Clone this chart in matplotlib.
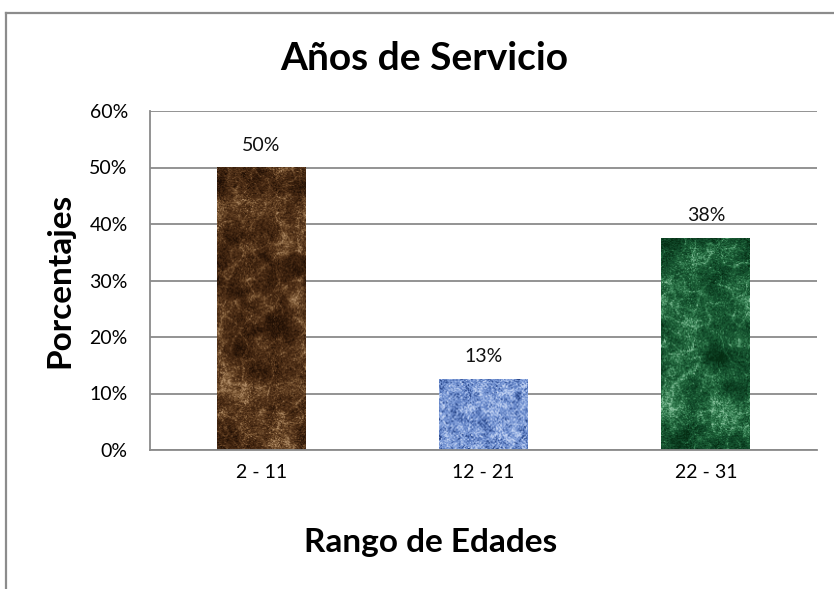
import numpy as np
import matplotlib
matplotlib.use('Agg')
import matplotlib.pyplot as plt
from matplotlib.colors import LinearSegmentedColormap
from matplotlib.lines import Line2D

# ---- data ----
categories = ['2 - 11', '12 - 21', '22 - 31']
values = [50.0, 12.5, 37.5]
value_labels = ['50%', '13%', '38%']
yticks = [0, 10, 20, 30, 40, 50, 60]
ytick_labels = ['0%', '10%', '20%', '30%', '40%', '50%', '60%']
title = 'Años de Servicio'
xlabel = 'Rango de Edades'
ylabel = 'Porcentajes'

FONT = ['Lato', 'DejaVu Sans']
plt.rcParams['font.family'] = FONT

W, H = 834, 589
fig = plt.figure(figsize=(W / 100, H / 100), dpi=100)
ax = fig.add_axes([150 / W, (H - 450) / H, (817 - 150) / W, (450 - 111) / H])

x = np.arange(len(categories))
bars = ax.bar(x, values, width=0.40, color=['#4a2d18', '#7d9bd8', '#1b5630'],
              zorder=2, linewidth=0)

# ---- decorative textures (styling only) ----
rng = np.random.default_rng(11)


def smooth_noise(h, w, scale):
    n = rng.standard_normal((h, w))
    fy = np.fft.fftfreq(h)[:, None]
    fx = np.fft.fftfreq(w)[None, :]
    f = np.exp(-(fx ** 2 + fy ** 2) * (scale ** 2) * 10)
    out = np.real(np.fft.ifft2(np.fft.fft2(n) * f))
    return (out - out.mean()) / (out.std() + 1e-9)


def marble(h, w):
    base = 0.7 * smooth_noise(h, w, 14) + 0.4 * smooth_noise(h, w, 5) + 0.45 * smooth_noise(h, w, 0.5)
    veins = np.exp(-np.abs(smooth_noise(h, w, 6)) * 6.0)
    v = 0.45 * base + 0.9 * veins + 0.3 * smooth_noise(h, w, 0.3)
    lo, hi = np.percentile(v, [1, 99.5])
    return np.clip((v - lo) / (hi - lo), 0, 1)


def weave(h, w):
    yy, xx = np.mgrid[0:h, 0:w]
    pat = 0.5 * np.cos(2 * np.pi * xx / 4.0) * np.cos(2 * np.pi * yy / 4.0)
    v = 0.55 + 0.35 * pat + 0.22 * smooth_noise(h, w, 0.5) + 0.12 * smooth_noise(h, w, 3)
    return np.clip(v, 0, 1)


cmaps = [
    LinearSegmentedColormap.from_list('brown', ['#1f0f05', '#3a200d', '#523219', '#7a5633', '#b08c66']),
    LinearSegmentedColormap.from_list('blue', ['#2c4a8c', '#5f80c4', '#86a3dc', '#c3d3f2']),
    LinearSegmentedColormap.from_list('green', ['#052d13', '#0f4527', '#1b5d35', '#3f8a5c', '#8cc4a0']),
]
makers = [marble, weave, marble]
px_per_unit = (450 - 111) / 60.0
for b, cm, mk in zip(bars, cmaps, makers):
    x0, bw, bh = b.get_x(), b.get_width(), b.get_height()
    hp = max(int(bh * px_per_unit), 4)
    wp = 92
    tex = mk(hp, wp)
    ax.imshow(tex, cmap=cm, extent=[x0, x0 + bw, 0, bh], origin='lower',
              aspect='auto', interpolation='bilinear', zorder=2.5)

ax.set_xlim(-0.5, len(categories) - 0.5)
ax.set_ylim(0, 60)
ax.set_yticks(yticks)
ax.set_yticklabels(ytick_labels)
ax.set_xticks(x)
ax.set_xticklabels(categories)
ax.tick_params(axis='y', length=0, pad=16, labelsize=14)
ax.tick_params(axis='x', length=0, pad=10, labelsize=14)

ax.set_axisbelow(True)
ax.yaxis.grid(True, color='#8a8a8a', linewidth=1.3)
for s in ['top', 'right']:
    ax.spines[s].set_visible(False)
for s in ['left', 'bottom']:
    ax.spines[s].set_color('#8a8a8a')
    ax.spines[s].set_linewidth(1.3)

for b, lab in zip(bars, value_labels):
    ax.annotate(lab, (b.get_x() + b.get_width() / 2, b.get_height()),
                xytext=(0, 10), textcoords='offset points', ha='center', va='bottom',
                fontsize=14, color='#111111')

fig.text(424 / W, (H - 70) / H, title, ha='center', va='baseline',
         fontsize=28, fontweight='bold')
fig.text(431 / W, (H - 552) / H, xlabel, ha='center', va='baseline',
         fontsize=24, fontweight='bold')
fig.text(60 / W, (H - 280) / H, ylabel, ha='center', va='center', rotation=90,
         fontsize=24, fontweight='bold')

# outer chart border (left & top visible)
fig.add_artist(Line2D([6 / W, 6 / W], [0, (H - 13) / H], color='#8c8c8c', lw=1.6,
                      transform=fig.transFigure))
fig.add_artist(Line2D([6 / W, 1], [(H - 13) / H, (H - 13) / H], color='#8c8c8c', lw=1.6,
                      transform=fig.transFigure))

fig.savefig('out.png', dpi=100)
